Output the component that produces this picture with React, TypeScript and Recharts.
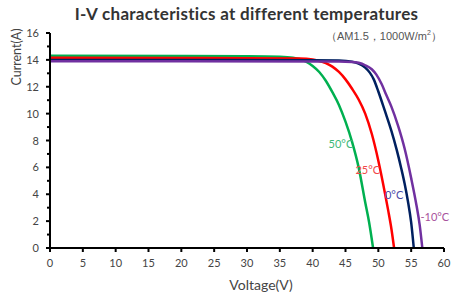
import React from "react";
import { LineChart, Line, XAxis, YAxis, ReferenceDot } from "recharts";

// I-V curves, voltage (V) vs current (A)
const v50 = [0, 20, 30, 35, 37, 38, 39, 40, 41, 42, 43, 44, 45, 46, 47, 48, 48.6, 49.2];
const i50 = [14.3, 14.29, 14.27, 14.23, 14.16, 14.06, 13.86, 13.55, 13.1, 12.45, 11.6, 10.65, 9.4, 7.9, 6.0, 3.4, 1.9, 0];

const v25 = [0, 20, 30, 38, 40, 41, 42, 43, 44, 45, 46, 47, 48, 49, 50, 51, 51.5, 52, 52.4];
const i25 = [14.15, 14.14, 14.13, 14.1, 14.02, 13.92, 13.76, 13.5, 13.1, 12.55, 11.85, 11.05, 10.0, 8.5, 6.5, 4.1, 2.8, 1.4, 0];

const v0 = [0, 20, 40, 44, 46, 47, 48, 48.7, 49.3, 50, 51, 52, 52.8, 53.5, 54, 54.5, 55, 55.4];
const i0 = [14.0, 13.99, 13.98, 13.95, 13.86, 13.72, 13.42, 13.05, 12.55, 11.65, 10.2, 8.7, 7.3, 5.9, 4.8, 3.5, 1.9, 0];

const vM10 = [0, 20, 44, 46, 47, 48, 49, 49.7, 50.5, 51.2, 52, 53, 54, 55, 55.8, 56.3, 56.7];
const iM10 = [13.9, 13.89, 13.88, 13.85, 13.78, 13.6, 13.3, 12.9, 12.2, 11.4, 10.5, 9.1, 7.4, 5.2, 3.2, 1.7, 0];

const seriesNames = ["50°C", "25°C", "0°C", "-10°C"];
const lineColors = ["#00b050", "#ff0000", "#002060", "#7030a0"];
const labelColors = ["#3cb878", "#f04848", "#4a4aa8", "#a8529c"];
// label anchor points in data units (V, A)
const labelV = [44.3, 48.4, 52.4, 58.6];
const labelI = [7.7, 5.8, 3.9, 2.3];

const xTicks = [0, 5, 10, 15, 20, 25, 30, 35, 40, 45, 50, 55, 60];
const yTicks = [0, 1, 2, 3, 4, 5, 6, 7, 8, 9, 10, 11, 12, 13, 14, 15, 16];

const zip = (v: number[], i: number[]) => v.map((x, k) => ({ v: x, i: i[k] }));
const curves = [zip(v50, i50), zip(v25, i25), zip(v0, i0), zip(vM10, iM10)];

const font = "Lato, 'Open Sans', sans-serif";

const YTick = (props: any) => {
  const { x, y, payload } = props;
  const axisX = x + 10;
  const major = payload.value % 2 === 0;
  return (
    <g>
      <line x1={axisX - (major ? 4 : 3)} x2={axisX} y1={y} y2={y} stroke="#000" strokeWidth={2} />
      {major && (
        <text x={axisX - 11} y={y} dy={4} textAnchor="end" fontSize={11} fill="#444" fontFamily={font}>
          {payload.value}
        </text>
      )}
    </g>
  );
};

export default function App() {
  return (
    <div style={{ position: "absolute", left: 0, top: 0, width: 455, height: 295, background: "#fff" }}>
      <LineChart width={455} height={295} margin={{ top: 33, right: 11, bottom: 17, left: 20 }}>
        <XAxis
          dataKey="v"
          type="number"
          domain={[0, 60]}
          ticks={xTicks}
          allowDataOverflow
          axisLine={{ stroke: "#000", strokeWidth: 2 }}
          tickLine={{ stroke: "#000", strokeWidth: 2 }}
          tickSize={4}
          tickMargin={7}
          tick={{ fill: "#444", fontSize: 11, fontFamily: font }}
        />
        <YAxis
          type="number"
          domain={[0, 16]}
          ticks={yTicks}
          width={30}
          interval={0}
          axisLine={{ stroke: "#000", strokeWidth: 2 }}
          tickLine={false}
          tickSize={4}
          tickMargin={6}
          tick={<YTick />}
        />
        {curves.map((c, k) => (
          <Line
            key={seriesNames[k]}
            data={c}
            dataKey="i"
            type="monotone"
            stroke={lineColors[k]}
            strokeWidth={2.5}
            dot={false}
            isAnimationActive={false}
          />
        ))}
        {seriesNames.map((n, k) => (
          <ReferenceDot
            key={"lbl" + n}
            x={labelV[k]}
            y={labelI[k]}
            r={0}
            fill="none"
            stroke="none"
            label={{ value: n, position: "center", fill: labelColors[k], fontSize: 11, fontFamily: font }}
          />
        ))}
      </LineChart>
      <div
        style={{
          position: "absolute", left: 0, width: 455, top: 3, textAlign: "center",
          fontFamily: font, fontWeight: 700, fontSize: 17, color: "#333",
          paddingLeft: 38, boxSizing: "border-box", letterSpacing: 0.3,
        }}
      >
        I-V characteristics at different temperatures
      </div>
      <div
        style={{
          position: "absolute", left: 326, top: 29, fontFamily: "'Liberation Sans', Arial, sans-serif",
          fontSize: 11, color: "#555", whiteSpace: "nowrap",
        }}
      >
        （AM1.5，1000W/m<sup style={{ fontSize: 7 }}>2</sup>）
      </div>
      <div
        style={{
          position: "absolute", left: 16, top: 57, transform: "translate(-50%, -50%) rotate(-90deg)",
          fontFamily: font, fontSize: 12.5, color: "#444", whiteSpace: "nowrap",
        }}
      >
        Current(A)
      </div>
      <div
        style={{
          position: "absolute", left: 261, top: 284, transform: "translate(-50%, -50%)",
          fontFamily: font, fontSize: 14, color: "#444", whiteSpace: "nowrap",
        }}
      >
        Voltage(V)
      </div>
    </div>
  );
}
